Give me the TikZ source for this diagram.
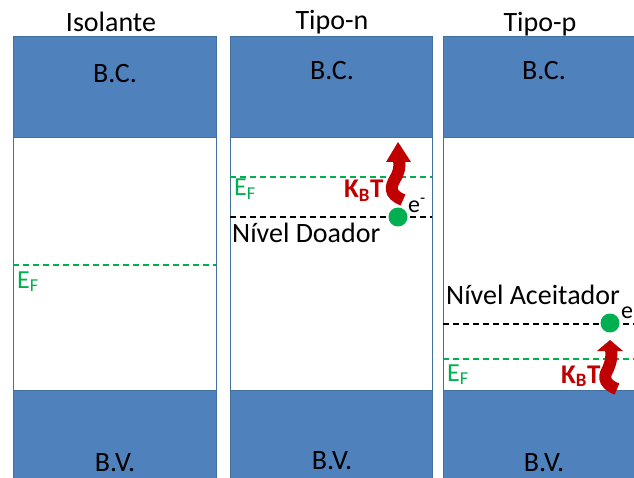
\documentclass[tikz,border=0pt]{standalone}
\usepackage{fontspec}
\setmainfont{Carlito}
\definecolor{bandblue}{HTML}{4F81BD}
\definecolor{bandedge}{HTML}{41719C}
\definecolor{efgreen}{HTML}{00B050}
\definecolor{ktred}{HTML}{C00000}
\begin{document}
\begin{tikzpicture}[x=1pt,y=-1pt,
  band/.style={fill=bandblue,draw=bandedge,line width=1pt},
  gapbox/.style={fill=white,draw=bandedge,line width=1pt},
  txt/.style={inner sep=0pt,font=\fontsize{28}{32}\selectfont},
  eflabel/.style={inner sep=0pt,text=efgreen,font=\fontsize{26}{30}\selectfont},
  ktlabel/.style={inner sep=0pt,text=ktred,font=\bfseries\fontsize{27}{31}\selectfont},
  efline/.style={draw=efgreen,line width=1.3pt,dash pattern=on 6pt off 4pt},
  lvline/.style={draw=black,line width=1.3pt,dash pattern=on 6pt off 4pt},
  electron/.style={circle,fill=efgreen,inner sep=0pt,minimum size=19pt},
  kbody/.style={draw=ktred,line width=12pt},
  khead/.style={fill=ktred,draw=none}]
\useasboundingbox (0,0) rectangle (634,478);
\begin{scope}
\clip (0,0) rectangle (634,478);
% column 1
\draw[band] (13,37) rectangle (216,138);
\draw[gapbox] (13,138) rectangle (216,390);
\draw[band] (13,390) rectangle (216,500);
% column 2
\draw[band] (230,37) rectangle (432,138);
\draw[gapbox] (230,138) rectangle (432,390);
\draw[band] (230,390) rectangle (432,500);
% column 3
\draw[band] (443,37) rectangle (646,138);
\draw[gapbox] (443,138) rectangle (646,390);
\draw[band] (443,390) rectangle (646,500);
\end{scope}
% titles
\node[txt,anchor=base] (t1) at (111,32) {Isolante};
\node[txt,anchor=base] (t2) at (332,30) {Tipo-n};
\node[txt,anchor=base] (t3) at (540,32) {Tipo-p};
% band labels
\node[txt,anchor=base] (bc1) at (115,83) {B.C.};
\node[txt,anchor=base] (bc2) at (332,80) {B.C.};
\node[txt,anchor=base] (bc3) at (544,80) {B.C.};
\node[txt,anchor=base] (bv1) at (115,471) {B.V.};
\node[txt,anchor=base] (bv2) at (332,469) {B.V.};
\node[txt,anchor=base] (bv3) at (544,471) {B.V.};
% column 1 Fermi level
\coordinate (f1a) at (13,265);
\coordinate (f1b) at (216,265);
\draw[efline] (f1a) -- (f1b);
\node[eflabel,anchor=base west] (ef1) at (17,288) {E\textsubscript{F}};
% column 2
\coordinate (f2a) at (230,177);
\coordinate (f2b) at (432,177);
\draw[efline] (f2a) -- (f2b);
\coordinate (d2a) at (230,217);
\coordinate (d2b) at (432,217);
\draw[lvline] (d2a) -- (d2b);
\node[eflabel,anchor=base west] (ef2) at (234,196) {E\textsubscript{F}};
\node[txt,anchor=base west] (nd) at (232,243) {Nível Doador};
\node[ktlabel,anchor=base west] (kt2) at (344,198) {K\textsubscript{B}T};
\draw[kbody] (403,200) .. controls (388,194) and (391,186) .. (395,179) .. controls (399,172) and (400,168) .. (399,160);
\fill[khead] (386,162) -- (398,142) -- (411,162) -- cycle;
\node[electron] (el2) at (398,217) {};
\node[txt,anchor=base west,font=\fontsize{24}{28}\selectfont] (e2) at (408,213) {e\textsuperscript{-}};
% column 3
\coordinate (a3a) at (443,324);
\coordinate (a3b) at (646,324);
\draw[lvline] (a3a) -- (a3b);
\coordinate (f3a) at (443,359);
\coordinate (f3b) at (646,359);
\draw[efline] (f3a) -- (f3b);
\node[txt,anchor=base west] (na) at (446,304) {Nível Aceitador};
\node[eflabel,anchor=base west] (ef3) at (447,381) {E\textsubscript{F}};
\node[ktlabel,anchor=base west] (kt3) at (561,383) {K\textsubscript{B}T};
\draw[kbody] (617,389) .. controls (601,383) and (605,374) .. (608,369) .. controls (611,362) and (612,357) .. (611,349);
\fill[khead] (597,351) -- (610,340) -- (623,351) -- cycle;
\node[electron] (el3) at (610,323) {};
\node[txt,anchor=base west,font=\fontsize{24}{28}\selectfont] (e3) at (621,318) {e};
\end{tikzpicture}
\end{document}
